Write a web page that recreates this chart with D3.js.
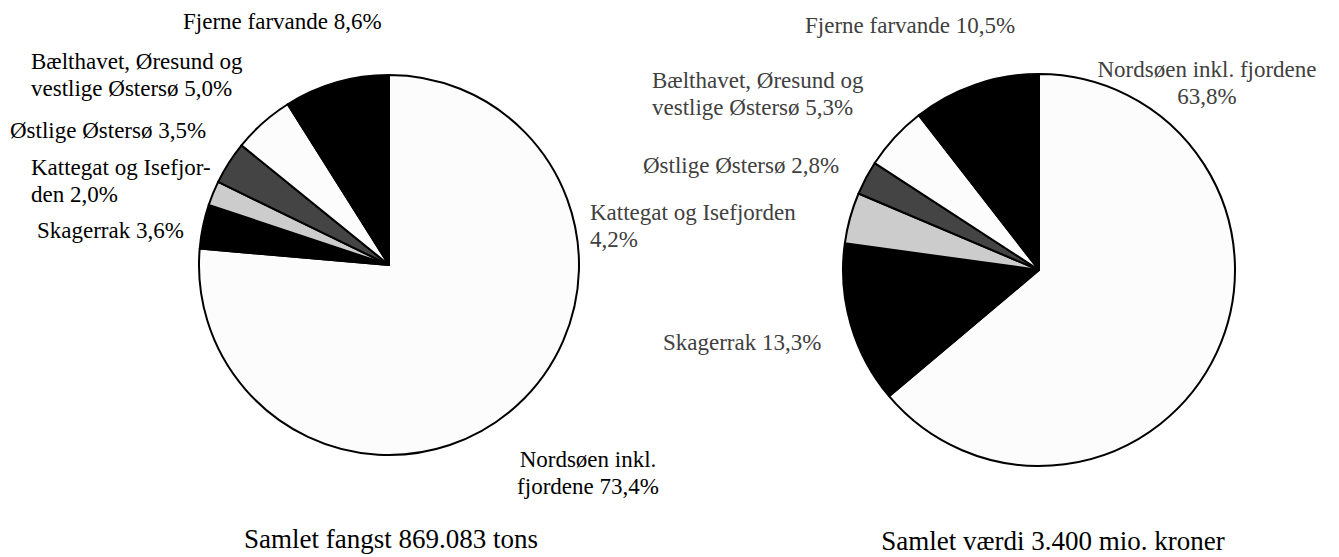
<!DOCTYPE html>
<html>
<head>
<meta charset="utf-8">
<script src="https://cdn.jsdelivr.net/npm/d3@7"></script>
<style>
  html, body { margin: 0; padding: 0; background: #ffffff; }
  svg { display: block; }
  text { font-family: "Liberation Serif", "Times New Roman", serif; }
</style>
</head>
<body>
<svg id="chart" width="1339" height="557"></svg>
<script>
// ---- Data ----
const categories = [
  "Nordsøen inkl. fjordene",
  "Skagerrak",
  "Kattegat og Isefjorden",
  "Østlige Østersø",
  "Bælthavet, Øresund og vestlige Østersø",
  "Fjerne farvande"
];
const catchShare = [73.4, 3.6, 2.0, 3.5, 5.0, 8.6];   // % of total catch (tons)
const valueShare = [63.8, 13.3, 4.2, 2.8, 5.3, 10.5]; // % of total value (kr)
const catchLabels = [
  ["Nordsøen inkl.", "fjordene 73,4%"],
  ["Skagerrak 3,6%"],
  ["Kattegat og Isefjor-", "den 2,0%"],
  ["Østlige Østersø 3,5%"],
  ["Bælthavet, Øresund og", "vestlige Østersø 5,0%"],
  ["Fjerne farvande 8,6%"]
];
const valueLabels = [
  ["Nordsøen inkl. fjordene", "63,8%"],
  ["Skagerrak 13,3%"],
  ["Kattegat og Isefjorden", "4,2%"],
  ["Østlige Østersø 2,8%"],
  ["Bælthavet, Øresund og", "vestlige Østersø 5,3%"],
  ["Fjerne farvande 10,5%"]
];
const titles = ["Samlet fangst 869.083 tons", "Samlet værdi 3.400 mio. kroner"];

// ---- Layout / style ----
const sliceColors = ["#fcfcfc", "#000000", "#cccccc", "#444444", "#fcfcfc", "#000000"];
const color = d3.scaleOrdinal().domain(categories).range(sliceColors);

const charts = [
  {
    values: catchShare, labels: catchLabels, title: titles[0],
    cx: 389, cy: 265, r: 190, labelColor: "#000000",
    labelPos: [ // x, y(baseline of first line), anchor
      [588, 467, "middle"], [37, 238, "start"], [31, 175, "start"],
      [10, 138, "start"], [31, 69, "start"], [183, 29, "start"]
    ],
    lineH: 27,
    titlePos: [391, 548]
  },
  {
    values: valueShare, labels: valueLabels, title: titles[1],
    cx: 1039, cy: 270, r: 196, labelColor: "#404040",
    labelPos: [
      [1207, 77, "middle"], [663, 350, "start"], [590, 220, "start"],
      [643, 173, "start"], [652, 88, "start"], [805, 33, "start"]
    ],
    lineH: 27,
    titlePos: [1053, 550]
  }
];

const svg = d3.select("#chart");
const pie = d3.pie().sort(null).value(d => d.v).startAngle(0).endAngle(2 * Math.PI);

charts.forEach(ch => {
  const data = categories.map((c, i) => ({ c, v: ch.values[i], label: ch.labels[i], pos: ch.labelPos[i] }));
  const arc = d3.arc().innerRadius(0).outerRadius(ch.r);
  const g = svg.append("g").attr("transform", `translate(${ch.cx},${ch.cy})`);
  g.selectAll("path")
    .data(pie(data))
    .join("path")
    .attr("d", arc)
    .attr("fill", d => color(d.data.c))
    .attr("stroke", "#000")
    .attr("stroke-width", 2)
    .attr("stroke-linejoin", "round");

  const lg = svg.append("g");
  data.forEach(d => {
    const t = lg.append("text")
      .attr("x", d.pos[0]).attr("y", d.pos[1])
      .attr("text-anchor", d.pos[2])
      .attr("fill", ch.labelColor)
      .style("font-size", "23px");
    d.label.forEach((line, k) => {
      t.append("tspan").attr("x", d.pos[0]).attr("dy", k === 0 ? 0 : ch.lineH).text(line);
    });
  });

  svg.append("text")
    .attr("x", ch.titlePos[0]).attr("y", ch.titlePos[1])
    .attr("text-anchor", "middle")
    .attr("fill", "#000")
    .style("font-size", "27px")
    .text(ch.title);
});
</script>
</body>
</html>
